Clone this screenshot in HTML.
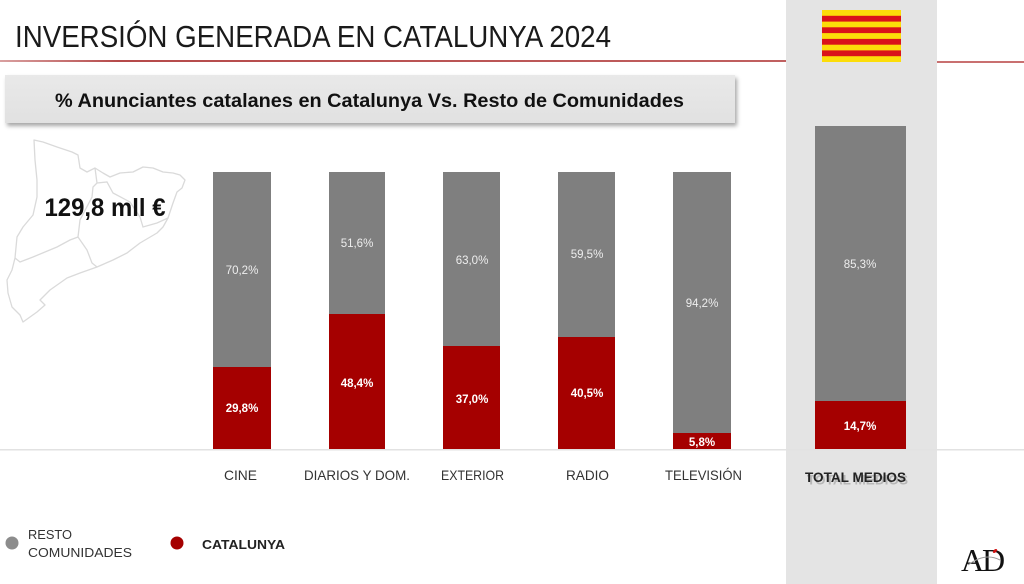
<!DOCTYPE html>
<html>
<head>
<meta charset="utf-8">
<style>
  html, body { margin:0; padding:0; background:#ffffff; }
  body { width:1024px; height:584px; overflow:hidden; position:relative; }
  svg { display:block; }
  .box { position:absolute; left:5px; top:75px; width:730px; height:48px; background:linear-gradient(#e9e9e9,#e1e1e1); box-shadow:2px 3px 4px rgba(0,0,0,0.35); }
</style>
</head>
<body>
<svg width="1024" height="584" viewBox="0 0 1024 584" xmlns="http://www.w3.org/2000/svg" style="position:absolute;left:0;top:0;">
  <!-- total medios panel -->
  <rect x="786" y="0" width="151" height="584" fill="#e4e4e4"/>
  <!-- red header line -->
  <defs>
    <linearGradient id="rl" x1="0" x2="1" y1="0" y2="0">
      <stop offset="0" stop-color="#d9a0a0"/>
      <stop offset="0.15" stop-color="#b54a4a"/>
      <stop offset="1" stop-color="#c06060"/>
    </linearGradient>
  </defs>
  <rect x="0" y="60" width="786" height="2" fill="url(#rl)"/>
  <rect x="937" y="61" width="87" height="2" fill="#c97070"/>
  <!-- title -->
  <text x="15" y="47" font-family="Liberation Sans, sans-serif" font-size="31" fill="#1a1a1a" textLength="596" lengthAdjust="spacingAndGlyphs">INVERSIÓN GENERADA EN CATALUNYA 2024</text>
  <!-- flag -->
  <rect x="822" y="10" width="79" height="52" fill="#fcdd09"/>
  <rect x="822" y="15.8" width="79" height="5.8" fill="#da121a"/>
  <rect x="822" y="27.3" width="79" height="5.8" fill="#da121a"/>
  <rect x="822" y="38.9" width="79" height="5.8" fill="#da121a"/>
  <rect x="822" y="50.4" width="79" height="5.8" fill="#da121a"/>
  <!-- map -->
  <path d="M34,140 L43,142 L57,147 L72,152 L78,155 L80,168 L87,172 L95,168 L103,173 L110,177 L120,173 L133,172 L143,167 L153,168 L163,172 L173,173 L180,175 L185,180 L182,188 L177,192 L173,203 L168,218 L163,227 L157,233 L140,243 L127,253 L113,260 L97,267 L80,273 L67,278 L50,290 L40,300 L45,305 L37,312 L30,317 L23,322 L20,315 L12,307 L8,293 L7,280 L12,270 L15,258 L17,237 L23,227 L33,215 L37,197 L37,180 L35,160 Z" fill="none" stroke="#dadada" stroke-width="1.3" stroke-linejoin="round"/>
  <path d="M95,168 L97,183 L93,187 L92,197 L80,220 L78,237 L87,250 L92,263 L97,267" fill="none" stroke="#dadada" stroke-width="1.3"/>
  <path d="M15,258 L20,262 L33,257 L57,247 L70,240 L78,237" fill="none" stroke="#dadada" stroke-width="1.3"/>
  <path d="M97,183 L107,182 L113,193 L130,202 L140,217 L143,227 L157,223 L168,218" fill="none" stroke="#dadada" stroke-width="1.3"/>
  <text x="105" y="216" text-anchor="middle" font-family="Liberation Sans, sans-serif" font-weight="bold" font-size="25" fill="#111" textLength="121" lengthAdjust="spacingAndGlyphs">129,8 mll €</text>

  <!-- baseline -->
  <rect x="0" y="449" width="1024" height="1.5" fill="#e2e2e2"/>

  <!-- bars -->
  <g font-family="Liberation Sans, sans-serif" font-size="11.5" text-anchor="middle">
    <rect x="213" y="172" width="58" height="195" fill="#7f7f7f"/>
    <rect x="213" y="367" width="58" height="82" fill="#a50000"/>
    <text x="242" y="274" fill="#eeeeee">70,2%</text>
    <text x="242" y="412" fill="#ffffff" font-weight="bold">29,8%</text>

    <rect x="329" y="172" width="56" height="142" fill="#7f7f7f"/>
    <rect x="329" y="314" width="56" height="135" fill="#a50000"/>
    <text x="357" y="247" fill="#eeeeee">51,6%</text>
    <text x="357" y="387" fill="#ffffff" font-weight="bold">48,4%</text>

    <rect x="443" y="172" width="57" height="174" fill="#7f7f7f"/>
    <rect x="443" y="346" width="57" height="103" fill="#a50000"/>
    <text x="472" y="264" fill="#eeeeee">63,0%</text>
    <text x="472" y="403" fill="#ffffff" font-weight="bold">37,0%</text>

    <rect x="558" y="172" width="57" height="165" fill="#7f7f7f"/>
    <rect x="558" y="337" width="57" height="112" fill="#a50000"/>
    <text x="587" y="258" fill="#eeeeee">59,5%</text>
    <text x="587" y="397" fill="#ffffff" font-weight="bold">40,5%</text>

    <rect x="673" y="172" width="58" height="261" fill="#7f7f7f"/>
    <rect x="673" y="433" width="58" height="16" fill="#a50000"/>
    <text x="702" y="307" fill="#eeeeee">94,2%</text>
    <text x="702" y="446" fill="#ffffff" font-weight="bold">5,8%</text>

    <rect x="815" y="126" width="91" height="275" fill="#7f7f7f"/>
    <rect x="815" y="401" width="91" height="48" fill="#a50000"/>
    <text x="860" y="268" fill="#eeeeee">85,3%</text>
    <text x="860" y="430" fill="#ffffff" font-weight="bold">14,7%</text>
  </g>

  <!-- category labels -->
  <g font-family="Liberation Sans, sans-serif" font-size="14" fill="#333">
    <text x="224" y="480" textLength="33" lengthAdjust="spacingAndGlyphs">CINE</text>
    <text x="304" y="480" textLength="106" lengthAdjust="spacingAndGlyphs">DIARIOS Y DOM.</text>
    <text x="441" y="480" textLength="63" lengthAdjust="spacingAndGlyphs">EXTERIOR</text>
    <text x="566" y="480" textLength="43" lengthAdjust="spacingAndGlyphs">RADIO</text>
    <text x="665" y="480" textLength="77" lengthAdjust="spacingAndGlyphs">TELEVISIÓN</text>
    <text x="806" y="483" font-weight="bold" fill="#9a9a9a" opacity="0.6" textLength="101" lengthAdjust="spacingAndGlyphs" transform="translate(1,1.5)">TOTAL MEDIOS</text>
    <text x="805" y="482" font-weight="bold" fill="#222" textLength="101" lengthAdjust="spacingAndGlyphs">TOTAL MEDIOS</text>
  </g>

  <!-- legend -->
  <circle cx="12" cy="543" r="6.5" fill="#8c8c8c"/>
  <circle cx="177" cy="543" r="6.5" fill="#a50000"/>
  <g font-family="Liberation Sans, sans-serif" font-size="13" fill="#333">
    <text x="28" y="539" textLength="44" lengthAdjust="spacingAndGlyphs">RESTO</text>
    <text x="28" y="557" textLength="104" lengthAdjust="spacingAndGlyphs">COMUNIDADES</text>
    <text x="202" y="549" font-weight="bold" fill="#222" textLength="83" lengthAdjust="spacingAndGlyphs">CATALUNYA</text>
  </g>

  <!-- logo -->
  <g font-family="Liberation Serif, serif">
    <text x="961" y="571" font-size="32" fill="#111">A</text>
    <text x="982" y="571" font-size="32" fill="#111">D</text>
    <path d="M968,565 Q985,552 1000,560" fill="none" stroke="#999" stroke-width="1"/>
    <ellipse cx="995" cy="551" rx="2.5" ry="1.5" fill="#d01010" transform="rotate(-40 995 551)"/>
  </g>
</svg>

<div class="box"></div>
<svg width="1024" height="584" viewBox="0 0 1024 584" xmlns="http://www.w3.org/2000/svg" style="position:absolute;left:0;top:0;pointer-events:none;">
  <text x="55" y="107" font-family="Liberation Sans, sans-serif" font-weight="bold" font-size="19" fill="#111" textLength="629" lengthAdjust="spacingAndGlyphs">% Anunciantes catalanes en Catalunya Vs. Resto de Comunidades</text>
</svg>
</body>
</html>
